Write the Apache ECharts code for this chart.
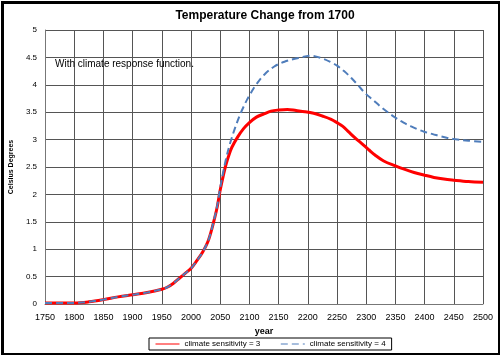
<!DOCTYPE html>
<html><head><meta charset="utf-8">
<script src="https://cdn.jsdelivr.net/npm/echarts@6/dist/echarts.min.js"></script>
<style>html,body{margin:0;padding:0;background:#fff}#c{width:500px;height:355px}</style>
</head><body><div id="c"></div>
<script>
const titleText = "Temperature Change from 1700";
const noteText = "With climate response function.";
const seriesNames = ["climate sensitivity = 3", "climate sensitivity = 4"];
const xTicks = [1750,1800,1850,1900,1950,2000,2050,2100,2150,2200,2250,2300,2350,2400,2450,2500];
const yearsCS3 = [1750,1775,1800,1825,1850,1875,1900,1925,1950,1960,1970,1980,1990,2000,2010,2020,2030,2040,2045,2050,2055,2060,2065,2070,2080,2090,2100,2112,2125,2137,2150,2165,2180,2195,2210,2225,2240,2250,2260,2270,2280,2292,2305,2315,2330,2350,2365,2382,2400,2416,2433,2450,2475,2500];
const valuesCS3 = [0.02,0.02,0.02,0.04,0.08,0.13,0.17,0.21,0.27,0.31,0.38,0.47,0.56,0.65,0.79,0.95,1.17,1.55,1.78,2.08,2.33,2.55,2.72,2.86,3.05,3.2,3.31,3.41,3.47,3.52,3.54,3.55,3.53,3.51,3.48,3.43,3.37,3.31,3.24,3.14,3.04,2.93,2.81,2.72,2.61,2.52,2.46,2.40,2.35,2.31,2.28,2.26,2.235,2.22];
const yearsCS4 = [1750,1775,1800,1825,1850,1875,1900,1925,1950,1960,1970,1980,1990,2000,2010,2020,2030,2040,2045,2050,2055,2060,2066,2075,2083,2090,2096,2103,2110,2125,2142,2160,2184,2206,2225,2240,2250,2262,2275,2287,2298,2312,2326,2338,2350,2364,2377,2390,2400,2414,2427,2440,2450,2475,2500];
const valuesCS4 = [0.02,0.02,0.02,0.04,0.08,0.13,0.17,0.21,0.27,0.31,0.38,0.47,0.56,0.65,0.79,0.95,1.17,1.56,1.8,2.12,2.4,2.65,2.9,3.2,3.43,3.6,3.73,3.86,3.98,4.18,4.33,4.42,4.49,4.53,4.48,4.41,4.35,4.25,4.12,3.98,3.85,3.72,3.59,3.49,3.40,3.31,3.24,3.18,3.14,3.10,3.06,3.03,3.01,2.98,2.96];

const chart = echarts.init(document.getElementById('c'), null, {renderer:'canvas'});
const font = 'Liberation Sans, Arial, sans-serif';
chart.setOption({
  animation:false,
  backgroundColor:'#fff',
  title:{text:titleText,left:260,textAlign:'center',top:5,textStyle:{fontFamily:font,fontSize:12,fontWeight:'bold',color:'#000'}},
  grid:{left:38,right:17,top:30,bottom:51,containLabel:false},
  legend:{
    data:seriesNames, bottom:5, left:149, width:240,
    itemWidth:24, itemHeight:8, itemGap:20,
    padding:[2,6,2,6], borderColor:'#000', borderWidth:1,
    itemStyle:{opacity:0},
    lineStyle:{width:1},
    textStyle:{fontFamily:font,fontSize:8,color:'#000'}
  },
  xAxis:{type:'value',min:1750,max:2500,interval:50,
    name:'year',nameLocation:'middle',nameGap:20,
    nameTextStyle:{fontFamily:font,fontSize:9,fontWeight:'bold',color:'#000'},
    axisLine:{show:true,lineStyle:{color:'#777'}},axisTick:{show:false},
    axisLabel:{fontFamily:font,fontSize:9,color:'#000',margin:9,
      formatter:v=>xTicks.includes(v)?String(v):''},
    splitLine:{show:true,lineStyle:{color:'#555',width:1}}},
  yAxis:{type:'value',min:0,max:5,interval:0.5,
    name:'Celsius Degrees',nameLocation:'middle',nameGap:28,
    nameTextStyle:{fontFamily:font,fontSize:7,fontWeight:'bold',color:'#000'},
    axisLine:{show:true,lineStyle:{color:'#777'}},axisTick:{show:false},
    axisLabel:{fontFamily:font,fontSize:8,color:'#000',margin:8},
    splitLine:{show:true,lineStyle:{color:'#555',width:1}}},
  graphic:[
    {type:'rect',left:0,top:0,z:100,shape:{x:1,y:1,width:497,height:352},style:{fill:'none',stroke:'#000',lineWidth:3}},
    {type:'text',left:55,top:59,z:100,style:{text:noteText,font:'10px '+font,fill:'#000'}}
  ],
  series:[
    {name:seriesNames[0],type:'line',smooth:0.35,symbol:'none',
     data:yearsCS3.map((y,i)=>[y,valuesCS3[i]]),
     lineStyle:{color:'#ff0000',width:3},itemStyle:{color:'#ff0000'},z:2},
    {name:seriesNames[1],type:'line',smooth:0.35,symbol:'none',
     data:yearsCS4.map((y,i)=>[y,valuesCS4[i]]),
     lineStyle:{color:'#4f7dbb',width:2,type:[7,4]},itemStyle:{color:'#4f7dbb'},z:3}
  ]
});
</script></body></html>
